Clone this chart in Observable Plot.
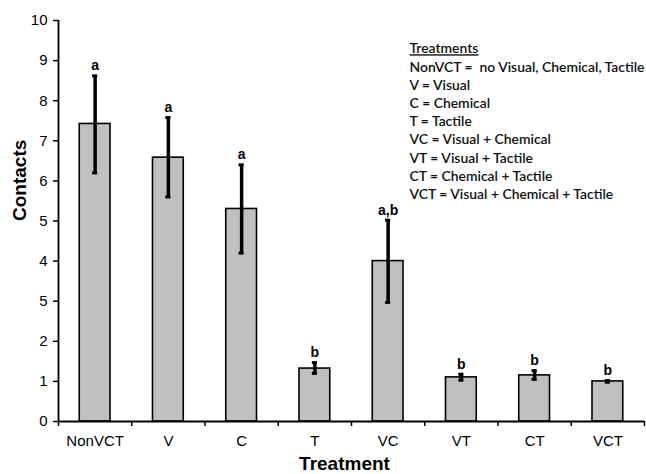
<!DOCTYPE html>
<html>
<head>
<meta charset="utf-8">
<script src="https://cdn.jsdelivr.net/npm/d3@7"></script>
<script src="https://cdn.jsdelivr.net/npm/@observablehq/plot@0.6"></script>
<style>
  html, body { margin: 0; padding: 0; background: #fff; }
</style>
</head>
<body>
<div id="chart"></div>
<script>
const categories = ["NonVCT", "V", "C", "T", "VC", "VT", "CT", "VCT"];
const means      = [7.42, 6.58, 5.30, 1.32, 4.00, 1.10, 1.15, 1.00];
const errLow     = [6.20, 5.60, 4.20, 1.20, 2.97, 1.03, 1.05, 0.98];
const errHigh    = [8.62, 7.58, 6.40, 1.47, 5.02, 1.18, 1.27, 1.02];
const letters    = ["a", "a", "a", "b", "a,b", "b", "b", "b"];
const yTicks      = [0, 1, 2, 3, 4, 5, 6, 7, 8, 9, 10];
const yTickLabels = ["0", "1", "2", "5", "4", "5", "6", "7", "8", "9", "10"];
const legendTitle = "Treatments";
const legendLines = [
  "NonVCT =  no Visual, Chemical, Tactile",
  "V = Visual",
  "C = Chemical",
  "T = Tactile",
  "VC = Visual + Chemical",
  "VT = Visual + Tactile",
  "CT = Chemical + Tactile",
  "VCT = Visual + Chemical + Tactile"
];

const data = categories.map((c, i) => ({
  i, c, mean: means[i], lo: errLow[i], hi: errHigh[i], letter: letters[i]
}));
const boundaries = d3.range(categories.length + 1).map(i => i - 0.5);
const half = 0.21, cap = 0.035;
const legendFont = "Lato, 'Open Sans', sans-serif";

const chart = Plot.plot({
  width: 646,
  height: 474,
  marginLeft: 58,
  marginRight: 2,
  marginTop: 20,
  marginBottom: 53,
  style: { fontFamily: "'Liberation Sans', Arial, sans-serif", background: "#fff", color: "#000" },
  x: { domain: [-0.5, categories.length - 0.5] },
  y: { domain: [0, 10] },
  marks: [
    Plot.rectY(data, { x1: d => d.i - half, x2: d => d.i + half, y1: 0, y2: "mean",
      fill: "#c0c0c0", stroke: "#000", strokeWidth: 1.6 }),
    Plot.ruleX(data, { x: "i", y1: "lo", y2: "hi", stroke: "#000", strokeWidth: 3.5 }),
    Plot.ruleY(data, { y: "lo", x1: d => d.i - cap, x2: d => d.i + cap, stroke: "#000", strokeWidth: 3 }),
    Plot.ruleY(data, { y: "hi", x1: d => d.i - cap, x2: d => d.i + cap, stroke: "#000", strokeWidth: 3 }),
    Plot.text(data, { x: "i", y: "hi", text: "letter", dy: -10, fontSize: 14, fontWeight: "bold", fill: "#000" }),
    Plot.ruleY([0], { stroke: "#000", strokeWidth: 1.8 }),
    Plot.ruleX([-0.5], { y1: 0, y2: 10, stroke: "#000", strokeWidth: 1.8 }),
    Plot.axisY({ ticks: yTicks, tickFormat: d => yTickLabels[yTicks.indexOf(d)], tickSize: 5,
      tickPadding: 6, fontSize: 15, strokeWidth: 1.5, label: null }),
    Plot.axisX({ ticks: boundaries, tickSize: 5, tickFormat: () => "", strokeWidth: 1.5, label: null }),
    Plot.axisX({ ticks: d3.range(categories.length), tickSize: 0, tickPadding: 14,
      tickFormat: i => categories[i], fontSize: 15, label: null }),
    Plot.text(["Treatment"], { frameAnchor: "bottom", dx: -7, dy: 42, fontSize: 19, fontWeight: "bold", lineAnchor: "middle" }),
    Plot.text(["Contacts"], { frameAnchor: "left", dx: -39, dy: 0, rotate: -90, fontSize: 19, fontWeight: "bold" }),
    Plot.text([legendTitle], { frameAnchor: "top-left", dx: 351, dy: 28.3, lineAnchor: "middle",
      textAnchor: "start", fontSize: 13.9, fontWeight: 600, fill: "#111", fontFamily: legendFont, className: "legend-title" }),
    ...legendLines.map((t, k) => Plot.text([t], { frameAnchor: "top-left", dx: 351, dy: 46.7 + k * 18.2,
      lineAnchor: "middle", textAnchor: "start", fontSize: 13.9, fontWeight: 600, fill: "#111", fontFamily: legendFont }))
  ]
});
d3.select(chart).selectAll(".legend-title text").style("text-decoration", "underline");
document.getElementById("chart").appendChild(chart);
</script>
</body>
</html>
